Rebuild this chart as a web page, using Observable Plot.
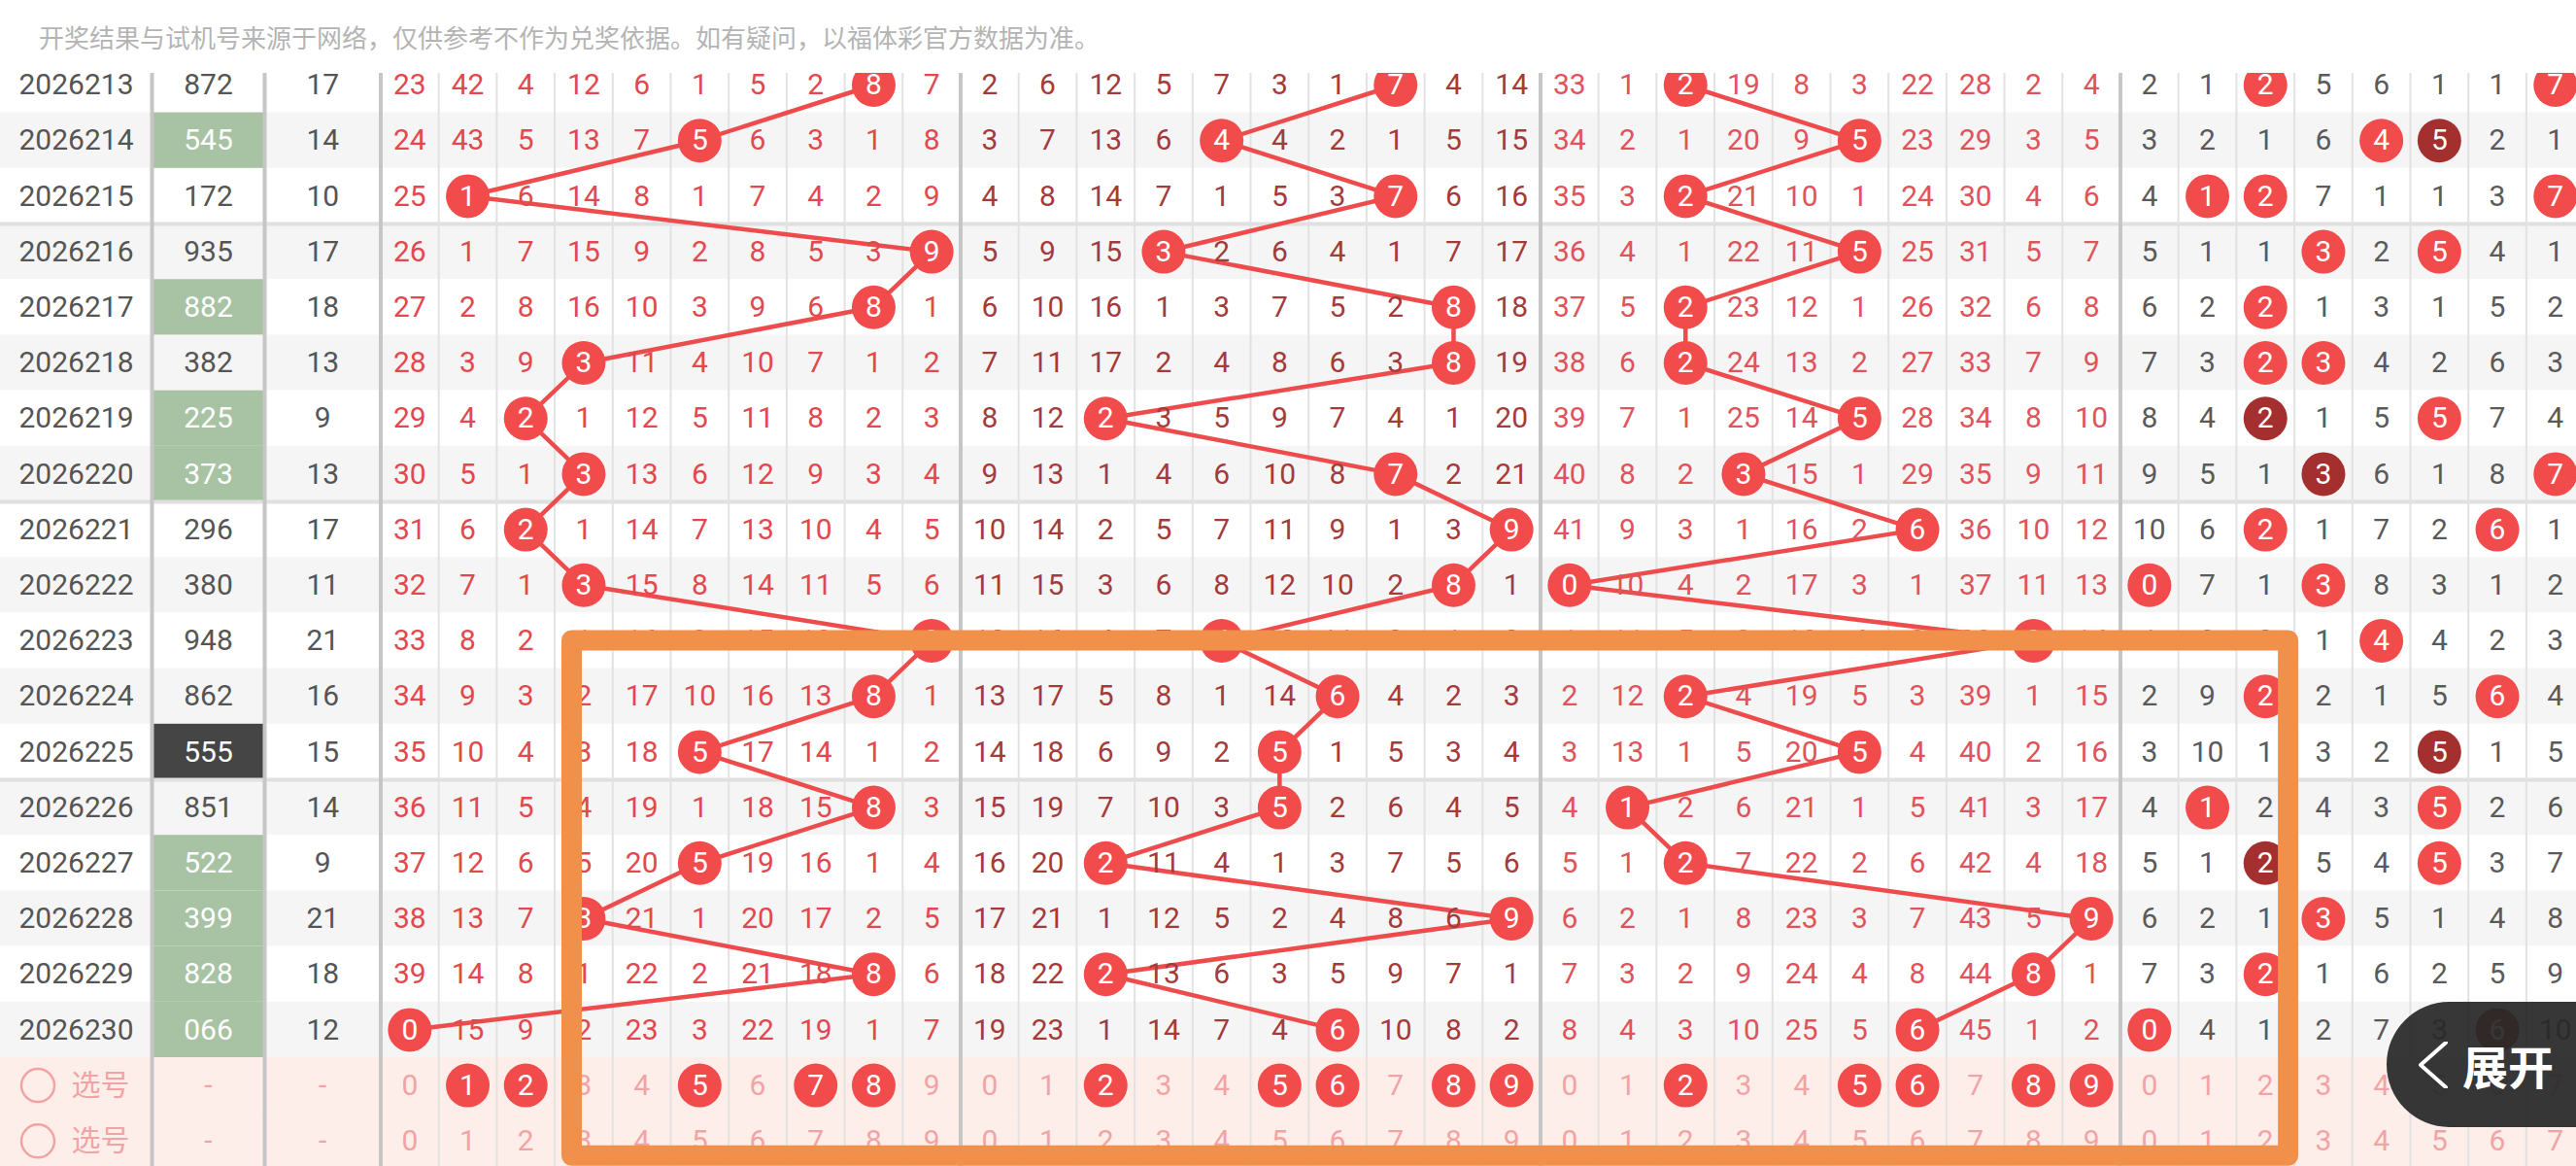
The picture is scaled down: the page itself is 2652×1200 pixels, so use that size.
<!DOCTYPE html>
<html><head><meta charset="utf-8">
<script src="https://cdn.jsdelivr.net/npm/d3@7"></script>
<script src="https://cdn.jsdelivr.net/npm/@observablehq/plot@0.6"></script>
<style>
html,body{margin:0;padding:0;background:#fff;overflow:hidden;}
#wrap{position:relative;width:2652px;height:1200px;overflow:hidden;background:#fff;}
#note{position:absolute;left:40px;top:0;height:75px;line-height:75px;font-family:"Noto Sans CJK SC";font-size:26px;color:#b4b4b4;white-space:nowrap;}
#chart{position:absolute;left:0;top:75px;}
#btn{position:absolute;left:2457px;top:1031px;width:260px;height:129px;border-radius:64.5px;background:rgba(40,40,40,0.93);}
#btn svg{position:absolute;left:33px;top:41px;}
#btn span{position:absolute;left:78px;top:0;height:129px;line-height:129px;font-family:"Noto Sans CJK SC";font-weight:700;font-size:47px;color:#fff;}
</style></head><body>
<div id="wrap"><div id="note"></div><div id="chart"></div><div id="btn"><svg width="30" height="48"><polyline points="28,1 2,24 28,47" fill="none" stroke="#fff" stroke-width="4" stroke-linecap="round" stroke-linejoin="round"/></svg><span></span></div></div>
<script>
// ---------- data ----------
const noteText = "开奖结果与试机号来源于网络，仅供参考不作为兑奖依据。如有疑问，以福体彩官方数据为准。";
const buttonLabel = "展开";
const pickRowLabel = "选号";
const issues = ["2026213","2026214","2026215","2026216","2026217","2026218","2026219","2026220","2026221","2026222","2026223","2026224","2026225","2026226","2026227","2026228","2026229","2026230"];
const results = ["872","545","172","935","882","382","225","373","296","380","948","862","555","851","522","399","828","066"];
const sums = [17,14,10,17,18,13,9,13,17,11,21,16,15,14,9,21,18,12];
// missing counts per digit 0-9 (0 = hit in that draw)
const hundredsMiss = [
 [23,42,4,12,6,1,5,2,0,7],[24,43,5,13,7,0,6,3,1,8],[25,0,6,14,8,1,7,4,2,9],[26,1,7,15,9,2,8,5,3,0],
 [27,2,8,16,10,3,9,6,0,1],[28,3,9,0,11,4,10,7,1,2],[29,4,0,1,12,5,11,8,2,3],[30,5,1,0,13,6,12,9,3,4],
 [31,6,0,1,14,7,13,10,4,5],[32,7,1,0,15,8,14,11,5,6],[33,8,2,1,16,9,15,12,6,0],[34,9,3,2,17,10,16,13,0,1],
 [35,10,4,3,18,0,17,14,1,2],[36,11,5,4,19,1,18,15,0,3],[37,12,6,5,20,0,19,16,1,4],[38,13,7,0,21,1,20,17,2,5],
 [39,14,8,1,22,2,21,18,0,6],[0,15,9,2,23,3,22,19,1,7]];
const tensMiss = [
 [2,6,12,5,7,3,1,0,4,14],[3,7,13,6,0,4,2,1,5,15],[4,8,14,7,1,5,3,0,6,16],[5,9,15,0,2,6,4,1,7,17],
 [6,10,16,1,3,7,5,2,0,18],[7,11,17,2,4,8,6,3,0,19],[8,12,0,3,5,9,7,4,1,20],[9,13,1,4,6,10,8,0,2,21],
 [10,14,2,5,7,11,9,1,3,0],[11,15,3,6,8,12,10,2,0,1],[12,16,4,7,0,13,11,3,1,2],[13,17,5,8,1,14,0,4,2,3],
 [14,18,6,9,2,0,1,5,3,4],[15,19,7,10,3,0,2,6,4,5],[16,20,0,11,4,1,3,7,5,6],[17,21,1,12,5,2,4,8,6,0],
 [18,22,0,13,6,3,5,9,7,1],[19,23,1,14,7,4,0,10,8,2]];
const unitsMiss = [
 [33,1,0,19,8,3,22,28,2,4],[34,2,1,20,9,0,23,29,3,5],[35,3,0,21,10,1,24,30,4,6],[36,4,1,22,11,0,25,31,5,7],
 [37,5,0,23,12,1,26,32,6,8],[38,6,0,24,13,2,27,33,7,9],[39,7,1,25,14,0,28,34,8,10],[40,8,2,0,15,1,29,35,9,11],
 [41,9,3,1,16,2,0,36,10,12],[0,10,4,2,17,3,1,37,11,13],[1,11,5,3,18,4,2,38,0,14],[2,12,0,4,19,5,3,39,1,15],
 [3,13,1,5,20,0,4,40,2,16],[4,0,2,6,21,1,5,41,3,17],[5,1,0,7,22,2,6,42,4,18],[6,2,1,8,23,3,7,43,5,0],
 [7,3,2,9,24,4,8,44,0,1],[8,4,3,10,25,5,0,45,1,2]];
const distMiss = [
 [2,1,0,5,6,1,1,0],[3,2,1,6,0,0,2,1],[4,0,0,7,1,1,3,0],[5,1,1,0,2,0,4,1],
 [6,2,0,1,3,1,5,2],[7,3,0,0,4,2,6,3],[8,4,0,1,5,0,7,4],[9,5,1,0,6,1,8,0],
 [10,6,0,1,7,2,0,1],[0,7,1,0,8,3,1,2],[1,8,2,1,0,4,2,3],[2,9,0,2,1,5,0,4],
 [3,10,1,3,2,0,1,5],[4,0,2,4,3,0,2,6],[5,1,0,5,4,0,3,7],[6,2,1,0,5,1,4,8],
 [7,3,0,1,6,2,5,9],[0,4,1,2,7,3,0,10]];
const digitLabels = ["0","1","2","3","4","5","6","7","8","9"];
const pickHundreds = [1,2,5,7,8];
const pickTens = [2,5,6,8,9];
const pickUnits = [2,5,6,8,9];
const highlightBox = {fromCol: 3, toCol: 32, fromRow: 10, toRow: 19};

// ---------- layout / style ----------
document.getElementById("note").textContent = noteText;
document.querySelector("#btn span").textContent = buttonLabel;
const W = 2652, H = 1125, U = 59.7, rowH = 57.2, row0 = 12;
const issueEdge = 156 / U, resultEdge = 272 / U, g0 = 391.5 / U;
const groupStart = g => g0 + 10 * g;
const cx = (g, d) => groupStart(g) + d + 0.5;
const groups = [hundredsMiss, tensMiss, unitsMiss, distMiss];
const groupColors = ["#e2484e", "#a33b3b", "#e0535a", "#5a5a5a"];
const RED = "#f24b4c", DARK = "#a32f2f", LINE = "#ee4c4c", PINK = "#f2a4a4";
const nRows = issues.length;
const count = (s, d) => s.split("").filter(c => +c === d).length;
const kind = s => { const u = new Set(s).size; return u === 1 ? "triple" : u === 2 ? "pair" : "six"; };

const cells = [];
groups.forEach((arr, g) => arr.forEach((vals, i) => vals.forEach((v, d) => {
  cells.push({g, i, d, v, hit: v === 0, dark: g === 3 && v === 0 && count(results[i], d) >= 2});
})));
const linePts = [];
[0, 1, 2].forEach(g => results.forEach((r, i) => linePts.push({g, i, d: +r[g]})));
const pickRows = [nRows, nRows + 1];
const picks = [pickHundreds, pickTens, pickUnits, []];
const pickCells = [];
pickRows.forEach((i, k) => groups.forEach((arr, g) => arr[0].forEach((_, d) => {
  pickCells.push({i, g, d, on: k === 0 && picks[g].includes(d)});
})));
const rowBg = d3.range(nRows + 2).map(i => ({i, fill: i >= nRows ? "#fdeeea" : (i % 2 ? "#f5f5f5" : "#ffffff")}));
const specials = results.map((r, i) => ({i, k: kind(r)})).filter(d => d.k !== "six");
const sepRows = issues.map((s, i) => ({s, i})).filter(d => (d.s.endsWith("5") || d.s.endsWith("0")) && d.i < nRows - 1).map(d => d.i + 0.5);
const thick = [issueEdge, resultEdge, g0, groupStart(1), groupStart(2), groupStart(3)];
const thin = [];
[0, 1, 2, 3].forEach(g => d3.range(1, 10).forEach(k => thin.push(groupStart(g) + k)));
const F = "Roboto", FS = 30;

const chart = Plot.plot({
  width: W, height: H, margin: 0,
  x: {domain: [0, W / U], range: [0, W], axis: null},
  y: {domain: [-row0 / rowH, (H - row0) / rowH], range: [0, H], axis: null},
  color: {type: "identity"},
  style: {background: "transparent"},
  marks: [
    Plot.rect(rowBg, {x1: 0, x2: W / U, y1: d => d.i - 0.5, y2: d => d.i + 0.5, fill: "fill"}),
    Plot.rect(specials, {x1: issueEdge, x2: resultEdge, y1: d => d.i - 0.5, y2: d => d.i + 0.5, fill: d => d.k === "triple" ? "#454545" : "#a8c3a3"}),
    Plot.ruleY(sepRows, {stroke: "#e0e0e0", strokeWidth: 4}),
    Plot.ruleX(thin, {stroke: "#e2e2e2", strokeWidth: 2}),
    Plot.ruleX(thick, {stroke: "#c6c6c6", strokeWidth: 4}),
    Plot.line(linePts, {x: d => cx(d.g, d.d), y: "i", z: "g", stroke: LINE, strokeWidth: 4.5}),
    Plot.text(issues, {x: issueEdge / 2, y: (d, i) => i, text: d => d, fill: "#555", fontSize: FS, fontFamily: F}),
    Plot.text(results, {x: (issueEdge + resultEdge) / 2, y: (d, i) => i, text: d => d, fill: d => kind(d) === "six" ? "#555" : "#ffffff", fontSize: FS, fontFamily: F}),
    Plot.text(sums, {x: (resultEdge + g0) / 2, y: (d, i) => i, text: d => String(d), fill: "#555", fontSize: FS, fontFamily: F}),
    Plot.text(cells.filter(d => !d.hit), {x: d => cx(d.g, d.d), y: "i", text: d => String(d.v), fill: d => groupColors[d.g], fontSize: FS, fontFamily: F}),
    Plot.dot(cells.filter(d => d.hit), {x: d => cx(d.g, d.d), y: "i", r: 22.5, fill: d => d.dark ? DARK : RED}),
    Plot.text(cells.filter(d => d.hit), {x: d => cx(d.g, d.d), y: "i", text: d => digitLabels[d.d], fill: "#ffffff", fontSize: FS, fontFamily: F}),
    // pick rows
    Plot.dot(pickRows, {x: 38.5 / U, y: d => d, r: 17, stroke: PINK, strokeWidth: 2.5, fill: "none"}),
    Plot.text(pickRows, {x: 73 / U, y: d => d, text: () => pickRowLabel, textAnchor: "start", fill: PINK, fontSize: 30, fontFamily: "Noto Sans CJK SC"}),
    Plot.text(pickRows, {x: (issueEdge + resultEdge) / 2, y: d => d, text: () => "-", fill: PINK, fontSize: FS, fontFamily: F}),
    Plot.text(pickRows, {x: (resultEdge + g0) / 2, y: d => d, text: () => "-", fill: PINK, fontSize: FS, fontFamily: F}),
    Plot.text(pickCells.filter(d => !d.on), {x: d => cx(d.g, d.d), y: "i", text: d => digitLabels[d.d], fill: PINK, fontSize: FS, fontFamily: F}),
    Plot.dot(pickCells.filter(d => d.on), {x: d => cx(d.g, d.d), y: "i", r: 22.5, fill: RED}),
    Plot.text(pickCells.filter(d => d.on), {x: d => cx(d.g, d.d), y: "i", text: d => digitLabels[d.d], fill: "#ffffff", fontSize: FS, fontFamily: F}),
    // highlight annotation
    Plot.rect([highlightBox], {x1: d => g0 + d.fromCol + 0.3, x2: d => g0 + d.toCol + 0.9, y1: d => d.fromRow, y2: d => d.toRow + 0.27, fill: "none", stroke: "#f0904a", strokeWidth: 21, strokeLinejoin: "round"})
  ]
});
document.getElementById("chart").appendChild(chart);
</script>
</body></html>
